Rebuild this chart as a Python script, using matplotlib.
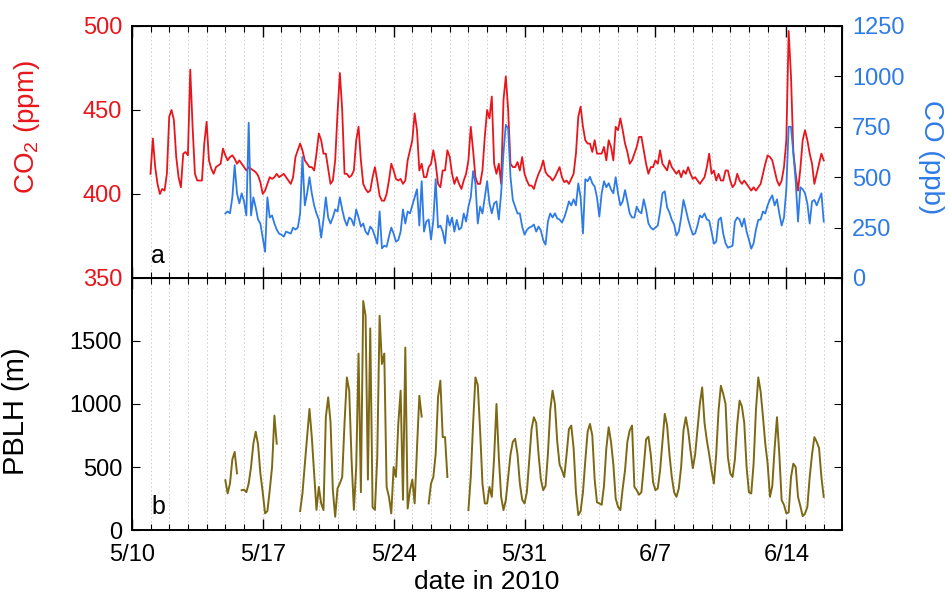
import numpy as np
import pandas as pd
import matplotlib
matplotlib.use("Agg")
import matplotlib.pyplot as plt
import matplotlib.dates as mdates
from matplotlib.ticker import FuncFormatter, MultipleLocator, FixedLocator

nan = np.nan

# 3-hourly CO2 (ppm), starting 2010-05-11 00:00, one row per day
co2 = [
    412, 433, 416, 406, 400, 403, 402, 412,
    446, 450, 444, 422, 410, 404, 424, 425,
    423, 474, 440, 412, 408, 408, 408, 430,
    443, 420, 415, 412, 416, 417, 418, 427,
    423, 420, 422, 423, 421, 418, 420, 418,
    416, 414, 416, 415, 414, 413, 411, 407,
    400, 402, 406, 410, 409, 410, 412, 410,
    411, 412, 410, 408, 406, 410, 422, 426,
    430, 426, 420, 418, 416, 416, 414, 424,
    436, 432, 424, 424, 415, 406, 408, 420,
    448, 472, 450, 412, 412, 410, 411, 414,
    432, 440, 420, 406, 403, 401, 402, 410,
    416, 408, 399, 396, 396, 400, 408, 418,
    414, 409, 408, 409, 406, 408, 420, 426,
    432, 448, 438, 414, 418, 410, 410, 416,
    418, 426, 418, 406, 404, 414, 414, 426,
    422, 412, 406, 410, 406, 403, 408, 412,
    420, 440, 426, 410, 406, 406, 414, 434,
    450, 445, 458, 418, 412, 418, 406, 456,
    470, 450, 418, 416, 416, 419, 414, 422,
    412, 408, 405, 405, 403, 408, 412, 415,
    420, 413, 411, 410, 408, 410, 413, 416,
    410, 407, 408, 406, 409, 412, 424, 446,
    452, 440, 432, 430, 430, 425, 432, 424,
    424, 424, 428, 420, 432, 428, 420, 440,
    438, 445, 438, 430, 425, 418, 420, 424,
    428, 434, 434, 426, 418, 412, 416, 416,
    420, 418, 426, 418, 416, 414, 420, 416,
    414, 412, 414, 410, 414, 412, 416, 412,
    409, 410, 408, 406, 408, 410, 416, 424,
    412, 414, 408, 412, 408, 408, 414, 414,
    408, 404, 406, 412, 408, 406, 408, 406,
    404, 402, 404, 402, 404, 406, 412, 418,
    423, 422, 420, 414, 408, 405, 408, 416,
    432, 497, 470, 425, 412, 402, 415, 432,
    438, 432, 424, 418, 406, 412, 418, 424,
    420,
]

# 3-hourly CO (ppb), starting 2010-05-15 00:00
co = [
    320, 330, 321, 400, 560, 420, 370, 420,
    380, 310, 770, 310, 400, 350, 290, 270,
    200, 130, 400, 300, 310, 270, 240, 220,
    215, 205, 230, 225, 220, 250, 240, 250,
    320, 600, 360, 420, 500, 420, 360, 320,
    290, 200, 290, 400, 300, 270, 300, 340,
    330, 400, 340, 290, 260, 300, 290, 260,
    340, 300, 255, 270, 230, 215, 255, 240,
    205, 170, 330, 147, 160, 155, 205, 250,
    220, 180, 188, 230, 340, 270, 330, 320,
    360, 400, 440, 260, 480, 230, 280, 290,
    190, 288, 490, 250, 260, 230, 172, 310,
    260, 300, 230, 288, 240, 250, 320, 280,
    354, 400, 530, 470, 270, 354, 320, 400,
    480, 370, 321, 370, 380, 290, 420, 620,
    760, 740, 500, 387, 354, 320, 320, 255,
    215, 238, 250, 255, 265, 230, 255, 235,
    188, 165, 280, 320, 300, 321, 295, 290,
    275, 300, 337, 380, 360, 390, 360, 469,
    400, 221, 490, 480, 502, 470, 453, 400,
    304, 420, 480, 450, 470, 440, 420, 500,
    420, 360, 380, 436, 380, 320, 300, 300,
    354, 330, 321, 390, 340, 271, 250, 240,
    250, 260, 330, 420, 430, 350, 325, 288,
    265, 210, 230, 300, 387, 340, 290, 250,
    215, 221, 260, 310, 300, 320, 290, 285,
    230, 170, 180, 288, 300, 220, 172, 150,
    155, 160, 280, 300, 290, 255, 295, 230,
    190, 145, 172, 240, 288, 290, 330, 320,
    360, 390, 410, 360, 390, 320, 260, 300,
    440, 750, 750, 620, 480, 280, 450, 440,
    420, 370, 270, 380, 387, 360, 390, 420,
    280,
]

# 3-hourly PBLH (m), starting 2010-05-15 00:00, NaN = missing
pblh = [
    395, 290, 369, 560, 620, 450, nan, 316,
    320, 300, 369, 500, 685, 780, 680, 450,
    300, 132, 150, 316, 500, 908, 685, nan,
    nan, nan, nan, nan, nan, nan, nan, nan,
    150, 290, 520, 737, 961, 737, 450, 160,
    342, 211, 158, 895, 1053, 860, 316, 105,
    330, 370, 420, 850, 1211, 1106, 560, 160,
    500, 1400, 300, 1817, 1700, 400, 1600, 180,
    160, 579, 1700, 1317, 1400, 342, 263, 132,
    500, 421, 842, 1106, 240, 1448, 170, 316,
    400, 211, 650, 1065, 900, nan, nan, 211,
    369, 421, 606, 1053, 1185, 737, 737, 420,
    nan, nan, nan, nan, nan, nan, nan, nan,
    158, 421, 842, 1211, 1150, 790, 369, 211,
    211, 342, 263, 579, 1000, 579, 263, 158,
    237, 421, 600, 700, 724, 600, 370, 240,
    211, 300, 550, 800, 895, 850, 600, 400,
    316, 350, 600, 950, 1106, 1000, 700, 520,
    474, 420, 600, 800, 829, 650, 300, 118,
    150, 300, 550, 780, 842, 750, 400, 220,
    211, 200, 350, 650, 816, 700, 520, 250,
    184, 158, 330, 474, 700, 790, 829, 342,
    316, 280, 300, 500, 720, 740, 600, 380,
    316, 330, 474, 700, 922, 830, 600, 421,
    300, 263, 330, 500, 790, 895, 790, 632,
    490, 600, 800, 1000, 1132, 850, 711, 600,
    474, 369, 600, 948, 1145, 1080, 1000, 579,
    450, 421, 560, 842, 1027, 980, 850, 500,
    300, 290, 527, 950, 1211, 1100, 900, 685,
    527, 263, 350, 650, 895, 600, 237, 200,
    132, 140, 420, 527, 500, 263, 190, 110,
    130, 184, 421, 600, 737, 700, 650, 421,
    263,
]

t_co2 = pd.date_range("2010-05-11", periods=len(co2), freq="3h")
t_co = pd.date_range("2010-05-15", periods=len(co), freq="3h")
t_pblh = pd.date_range("2010-05-15", periods=len(pblh), freq="3h")
week_ticks = pd.date_range("2010-05-10", "2010-06-14", freq="7D")

RED = "#e8161c"
BLUE = "#2f7be6"
OLIVE = "#7d6915"

plt.rcParams["font.family"] = ["Liberation Sans", "DejaVu Sans"]
plt.rcParams["mathtext.default"] = "regular"

fig = plt.figure(figsize=(9.49, 5.96), dpi=100)
ax1 = fig.add_axes([0.1389, 0.5336, 0.7488, 0.4228])
ax3 = fig.add_axes([0.1389, 0.1107, 0.7488, 0.4229], sharex=ax1)
ax2 = ax1.twinx()

ax1.plot(t_co2, co2, color=RED, lw=1.3)
ax2.plot(t_co, co, color=BLUE, lw=1.3)
ax3.plot(t_pblh, pblh, color=OLIVE, lw=1.4)

ax1.set_xlim(pd.Timestamp("2010-05-10"), pd.Timestamp("2010-06-17"))
ax1.set_ylim(350, 500)
ax2.set_ylim(0, 1250)
ax3.set_ylim(0, 2000)

ax1.yaxis.set_major_locator(MultipleLocator(50))
ax2.yaxis.set_major_locator(MultipleLocator(250))
ax3.set_yticks([0, 500, 1000, 1500])

ax3.xaxis.set_major_locator(FixedLocator(mdates.date2num(week_ticks.to_pydatetime())))
ax3.xaxis.set_minor_locator(mdates.DayLocator())
ax3.xaxis.set_major_formatter(
    FuncFormatter(lambda v, pos: "{d.month}/{d.day}".format(d=mdates.num2date(v))))

for ax in (ax1, ax3):
    ax.grid(True, which="both", axis="x", ls=(0, (1.5, 2.5)), color="#cccccc", lw=0.7)
    ax.tick_params(axis="x", which="major", direction="in", length=8, width=1.0, top=True)
    ax.tick_params(axis="x", which="minor", direction="in", length=4, width=0.8, top=True)
    for s in ax.spines.values():
        s.set_linewidth(1.4)

plt.setp(ax1.get_xticklabels(), visible=False)
ax3.tick_params(axis="x", labelsize=17, pad=10)

ax1.tick_params(axis="y", direction="in", length=6, labelsize=17, labelcolor=RED,
                right=False, pad=7)
ax2.tick_params(axis="y", direction="in", length=6, labelsize=17, labelcolor=BLUE, pad=7)
ax3.tick_params(axis="y", direction="in", length=6, labelsize=17, right=True, pad=7)

ax1.set_ylabel("CO$_2$ (ppm)", color=RED, fontsize=20)
ax1.yaxis.set_label_coords(-0.126, 0.6)
ax2.set_ylabel("CO (ppb)", color=BLUE, fontsize=20, rotation=270, va="center")
ax2.yaxis.set_label_coords(1.124, 0.48)
ax3.set_ylabel("PBLH (m)", fontsize=21)
ax3.yaxis.set_label_coords(-0.143, 0.47)
ax3.set_xlabel("date in 2010", fontsize=19, labelpad=3)

ax1.text(0.027, 0.06, "a", transform=ax1.transAxes, fontsize=18)
ax3.text(0.027, 0.065, "b", transform=ax3.transAxes, fontsize=18)

fig.savefig("out.png", dpi=100)
